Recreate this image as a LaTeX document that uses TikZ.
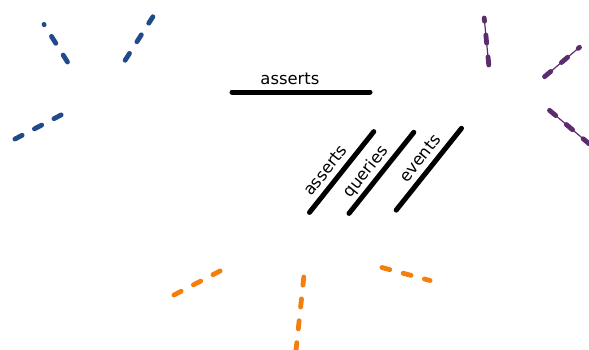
\documentclass[tikz,border=0pt]{standalone}
\usepackage{fontspec}
\setmainfont{DejaVu Sans}
\definecolor{EdgeBlue}{HTML}{1F4B8A}
\definecolor{EdgePurple}{HTML}{5C2D6E}
\definecolor{EdgeOrange}{HTML}{F57F0C}
\usepackage{tikz}

\begin{document}
\begin{tikzpicture}[x=1pt, y=-1pt,
    spoke/.style={line width=4.8pt, line cap=round, dash pattern=on 8.2pt off 13.8pt},
    thread/.style={line width=1.2pt},
    rel/.style={line width=5pt, line cap=round},
    lbl/.style={font=\fontsize{16.4}{18}\selectfont, inner sep=0pt, text depth=0pt, sloped, above=5.5pt}]
  \useasboundingbox (0,0) rectangle (589,349);
  \clip (0,0) rectangle (589,349);

  % blue spokes
  \coordinate (blueA) at (67.5,62);    \coordinate (blueAend) at (44.0,24.4);
  \coordinate (blueB) at (125.1,60.3); \coordinate (blueBend) at (152.9,16.7);
  \coordinate (blueC) at (61.2,114.9); \coordinate (blueCend) at (14.8,139.1);
  \draw[spoke, EdgeBlue] (blueA) -- (blueAend);
  \draw[spoke, EdgeBlue] (blueB) -- (blueBend);
  \draw[spoke, EdgeBlue] (blueC) -- (blueCend);

  % purple spokes, thin line under the dashes
  \coordinate (purpA) at (488.8,65);   \coordinate (purpAend) at (484.2,18);
  \coordinate (purpB) at (544.5,76.7); \coordinate (purpBend) at (579.5,47.3);
  \coordinate (purpC) at (549.5,110.3);\coordinate (purpCend) at (600,153);
  \draw[thread, EdgePurple] (purpA) -- (purpAend);
  \draw[thread, EdgePurple] (purpB) -- (purpBend);
  \draw[thread, EdgePurple] (purpC) -- (purpCend);
  \draw[spoke, EdgePurple] (purpA) -- (purpAend);
  \draw[spoke, EdgePurple] (purpB) -- (purpBend);
  \draw[spoke, EdgePurple] (purpC) -- (purpCend);

  % orange spokes
  \coordinate (orgA) at (220.2,270.9); \coordinate (orgAend) at (173.8,295.1);
  \coordinate (orgB) at (303.8,277);   \coordinate (orgBend) at (295,360);
  \coordinate (orgC) at (381.9,267.5); \coordinate (orgCend) at (430.1,280.5);
  \draw[spoke, EdgeOrange] (orgA) -- (orgAend);
  \draw[spoke, EdgeOrange] (orgB) -- (orgBend);
  \draw[spoke, EdgeOrange] (orgC) -- (orgCend);

  % labelled relations
  \coordinate (relA) at (232,92);      \coordinate (relAend) at (370,92);
  \coordinate (relB) at (309.5,212.4); \coordinate (relBend) at (373.8,131.6);
  \coordinate (relC) at (349,213.4);   \coordinate (relCend) at (413.8,132.3);
  \coordinate (relD) at (396.2,210.1); \coordinate (relDend) at (461.5,128.3);
  \draw[rel] (relA) -- node[lbl, pos=.42] (lblA) {asserts} (relAend);
  \draw[rel] (relB) -- node[lbl, pos=.415] (lblB) {asserts} (relBend);
  \draw[rel] (relC) -- node[lbl, pos=.415] (lblC) {queries} (relCend);
  \draw[rel] (relD) -- node[lbl, pos=.53] (lblD) {events} (relDend);
\end{tikzpicture}
\end{document}
